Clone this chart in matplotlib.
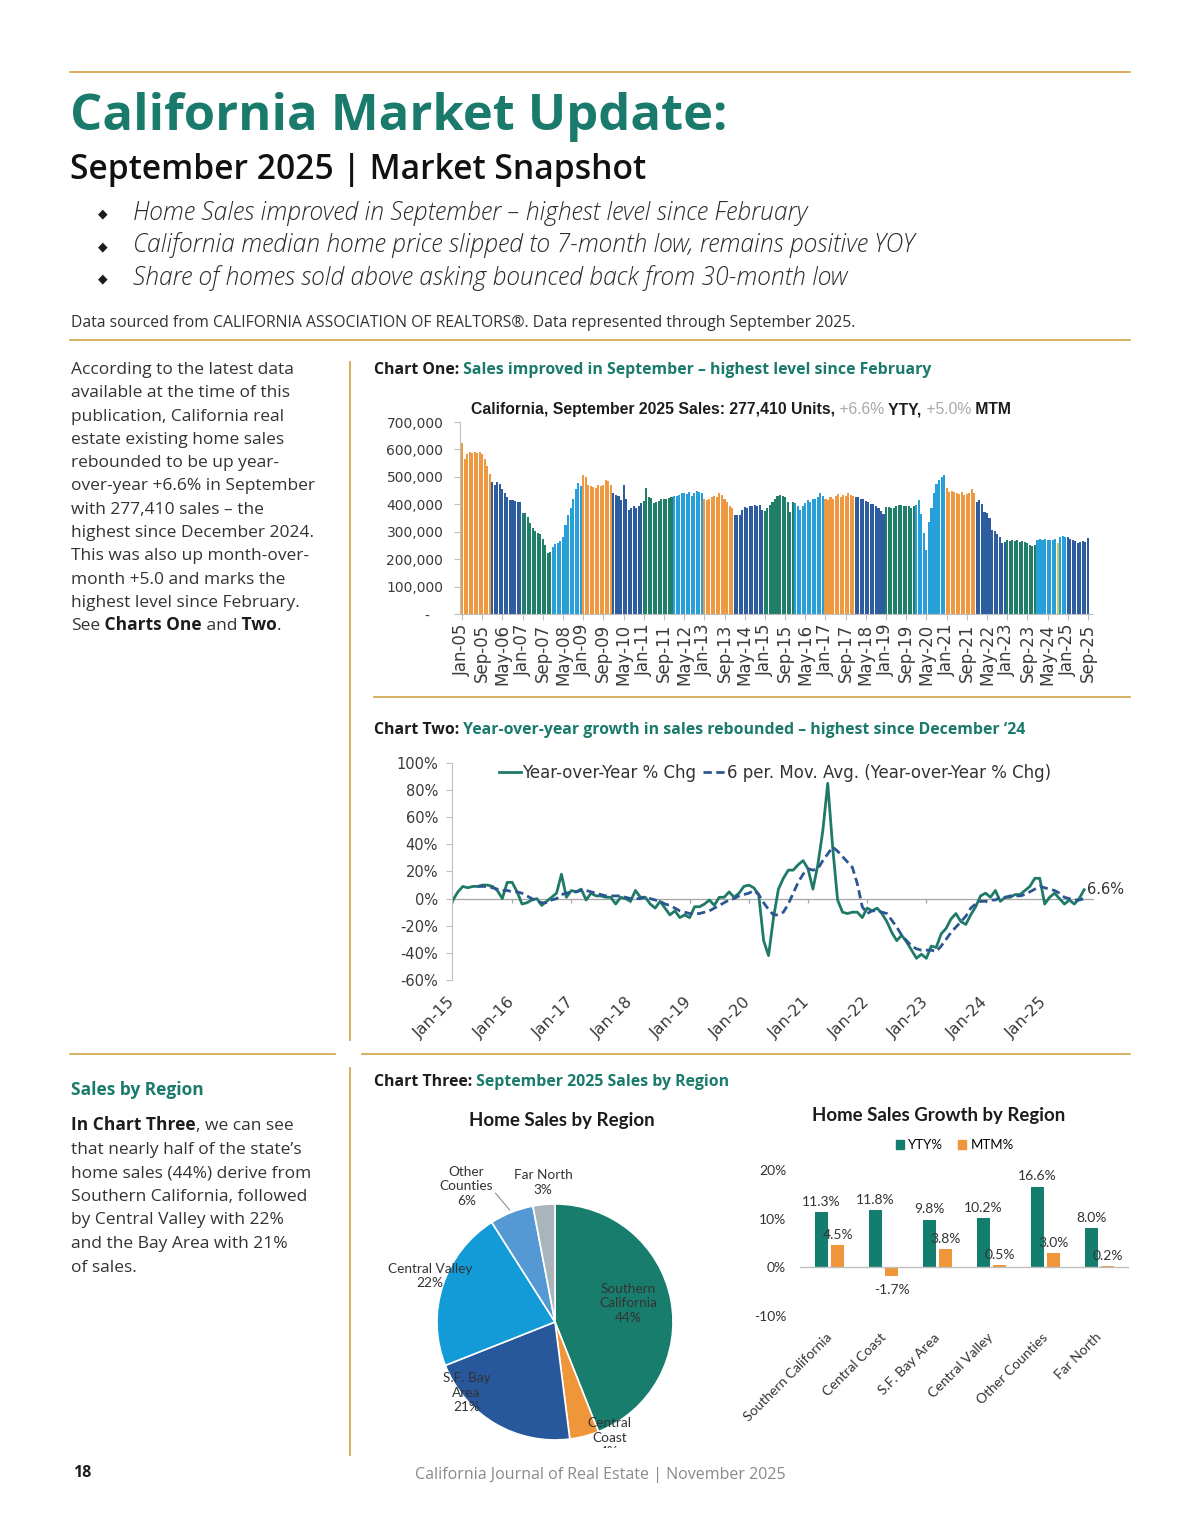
import matplotlib
matplotlib.use("Agg")
import matplotlib.pyplot as plt
import numpy as np
import pandas as pd
from matplotlib.lines import Line2D
from matplotlib.patches import Patch

W, H = 1200, 1535

# ---------------------------------------------------------------------------
# Data
# ---------------------------------------------------------------------------

# Chart One: California existing home sales, SAAR, thousands of units, Jan-05 .. Sep-25
sales_k = [
    625, 565, 585, 592, 588, 590, 588, 590, 582, 565, 540, 510,   # 2005
    480, 470, 482, 475, 455, 440, 425, 415, 415, 412, 410, 408,   # 2006
    368, 370, 355, 330, 312, 302, 296, 290, 275, 250, 222, 225,   # 2007
    245, 255, 258, 265, 280, 325, 360, 385, 420, 455, 478, 468,   # 2008
    505, 500, 470, 465, 462, 460, 470, 465, 470, 490, 485, 470,   # 2009
    440, 435, 432, 415, 470, 420, 380, 385, 392, 385, 395, 405,   # 2010
    412, 460, 425, 422, 405, 408, 412, 418, 420, 420, 422, 425,   # 2011
    430, 432, 435, 440, 442, 438, 445, 432, 440, 448, 445, 440,   # 2012
    418, 415, 420, 425, 430, 428, 440, 435, 420, 410, 395, 385,   # 2013
    360, 360, 362, 380, 390, 388, 392, 395, 398, 395, 398, 380,   # 2014
    375, 385, 398, 410, 420, 430, 433, 430, 425, 410, 372, 410,   # 2015
    405, 395, 380, 395, 405, 415, 410, 420, 418, 425, 440, 432,   # 2016
    418, 415, 425, 420, 430, 438, 425, 435, 430, 440, 435, 432,   # 2017
    428, 425, 420, 418, 412, 408, 402, 400, 395, 388, 375, 365,   # 2018
    390, 390, 388, 385, 393, 398, 396, 392, 392, 395, 385, 395,   # 2019
    398, 415, 365, 295, 235, 335, 385, 440, 475, 490, 500, 505,   # 2020
    460, 445, 448, 445, 440, 438, 445, 435, 438, 440, 455, 440,   # 2021
    410, 415, 400, 372, 368, 350, 305, 302, 290, 280, 258, 262,   # 2022
    268, 265, 268, 265, 270, 262, 265, 262, 258, 252, 248, 250,   # 2023
    268, 272, 270, 275, 270, 270, 268, 272, 260, 282, 285, 282,   # 2024
    282, 272, 268, 265, 260, 262, 265, 264, 277,                  # 2025
]
highlight_month = 'Sep-24'

# Chart Two: year-over-year % change in sales, Jan-15 .. Sep-25
yoy_pct = [
    -1, 5, 9, 8, 9, 9, 10, 10, 9, 6, 0, 12,            # 2015
    12, 5, -4, -3, -1, 0, -5, -2, 1, 4, 18, 1,         # 2016
    6, 5, 7, -1, 4, 2, 2, 1, 1, -4, 1, 0,              # 2017
    -2, 6, 1, 1, -4, -7, -2, -7, -12, -9, -14, -12,    # 2018
    -14, -6, -6, -4, -1, -5, 1, 1, 5, 1, 4, 9,         # 2019
    10, 8, 3, -31, -42, -14, 7, 15, 21, 21, 25, 28,    # 2020
    22, 7, 25, 50, 85, 38, -1, -10, -11, -10, -10, -14,  # 2021
    -7, -9, -7, -11, -17, -25, -31, -27, -32, -38, -44, -41,  # 2022
    -44, -35, -36, -26, -22, -15, -11, -17, -19, -12, -6, 2,  # 2023
    4, 1, 6, -2, 1, 1, 3, 3, 6, 9, 15, 15,             # 2024
    -4, 1, 4, 0, -4, -1, -4, 0, 6.6,                   # 2025
]
# 6-period moving average as plotted
yoy_ma6 = [
    None, None, None, None, None, 9, 9, 9, 8, 7, 6, 6,  # 2015
    5, 5, 4, 2, 0, -2, -3, -3, -1, 0, 3, 4,            # 2016
    5, 5, 6, 6, 5, 4, 3, 2, 2, 2, 2, 1,                # 2017
    0, 0, 0, 1, 0, -1, -2, -4, -5, -7, -9, -10,        # 2018
    -11, -11, -11, -10, -9, -7, -5, -3, -1, 0, 2, 3,   # 2019
    4, 6, 3, -3, -8, -12, -12, -10, -4, 4, 12, 18,     # 2020
    22, 21, 22, 28, 33, 38, 35, 31, 27, 23, 11, -6,    # 2021
    -11, -9, -9, -10, -11, -16, -21, -27, -31, -35, -37, -38,  # 2022
    -38, -38, -39, -35, -30, -25, -21, -17, -13, -7, -4, -2,   # 2023
    -2, -1, -1, 1, 1, 2, 2, 2, 3, 5, 7, 9,             # 2024
    8, 7, 6, 4, 1, 0, -1, -1, 0,                       # 2025
]

# Chart Three: September 2025 sales by region
pie_regions = ['Southern\nCalifornia', 'Central\nCoast', 'S.F. Bay\nArea',
               'Central Valley', 'Other\nCounties', 'Far North']
pie_share = [44, 4, 21, 22, 6, 3]

growth_regions = ['Southern California', 'Central Coast', 'S.F. Bay Area',
                  'Central Valley', 'Other Counties', 'Far North']
yty_pct = [11.3, 11.8, 9.8, 10.2, 16.6, 8.0]
mtm_pct = [4.5, -1.7, 3.8, 0.5, 3.0, 0.2]

# ---------------------------------------------------------------------------
# Style
# ---------------------------------------------------------------------------
TEAL = '#1a7a6c'
GOLD = '#d6a954'
INK = '#1c1c1c'
BODY_C = '#333333'
BODY = 'Open Sans'
CHART_FONT = 'DejaVu Sans'
XL_FONT = 'Lato'

ORANGE = '#ee9842'
DBLUE = '#2d5c9f'
GREEN = '#1f7f69'
LBLUE = '#27a0da'
year_colors = [ORANGE, DBLUE, GREEN, LBLUE] * 5 + [DBLUE]

pie_colors = ['#187d6d', '#f0963a', '#28589c', '#139bd8', '#5599d4', '#a9b5bb']
pie_label_xy = [(0.62, 0.16), (0.46, -0.98), (-0.75, -0.60),
                (-1.06, 0.39), (-0.75, 1.15), (-0.10, 1.18)]

fig = plt.figure(figsize=(W / 100, H / 100), dpi=100)
renderer = fig.canvas.get_renderer()


def fx(x):
    return x / W


def fy(y):
    return 1 - y / H


def px_axes(left, top, right, bottom):
    return fig.add_axes([fx(left), fy(bottom), (right - left) / W, (bottom - top) / H])


def hline(x0, x1, y, lw=1.3):
    fig.add_artist(Line2D([fx(x0), fx(x1)], [fy(y), fy(y)], color=GOLD, lw=lw))


def vline(x, y0, y1, lw=1.3):
    fig.add_artist(Line2D([fx(x), fx(x)], [fy(y0), fy(y1)], color=GOLD, lw=lw))


def text_runs(x, y, parts, size, style='normal', family=BODY):
    # parts: (text, weight, color); each run starts where the last one ended
    for s, weight, color in parts:
        t = fig.text(fx(x), fy(y), s, fontsize=size, fontweight=weight, color=color,
                     fontstyle=style, family=family, va='baseline', ha='left')
        x += t.get_window_extent(renderer).width
    return x


# ---------------------------------------------------------------------------
# Page header
# ---------------------------------------------------------------------------
hline(70, 1130, 72)
fig.text(fx(70), fy(130), 'California Market Update:', fontsize=36.5, fontweight='bold',
         color=TEAL, family=BODY, va='baseline')
fig.text(fx(70), fy(179), 'September 2025 | Market Snapshot', fontsize=24.2,
         fontweight='semibold', color='#111111', family=BODY, va='baseline')

bullets = ['Home Sales improved in September \u2013 highest level since February',
           'California median home price slipped to 7-month low, remains positive YOY',
           'Share of homes sold above asking bounced back from 30-month low']
for i, b in enumerate(bullets):
    yb = 220 + i * 32.5
    fig.text(fx(103), fy(yb - 6), '\u25c6', fontsize=9, color=INK,
             family=['DejaVu Sans'], va='center', ha='center')
    fig.text(fx(133), fy(yb), b, fontsize=17.7, fontstyle='italic', fontweight='light',
             color='#2a2a2a', family=BODY, va='baseline')

fig.text(fx(71), fy(327), 'Data sourced from CALIFORNIA ASSOCIATION OF REALTORS\u00ae. '
         'Data represented through September 2025.', fontsize=11.3, color=BODY_C,
         family=BODY, va='baseline')
hline(70, 1130, 340)

# ---------------------------------------------------------------------------
# Left column copy
# ---------------------------------------------------------------------------
para1 = ['According to the latest data', 'available at the time of this',
         'publication, California real', 'estate existing home sales',
         'rebounded to be up year-', 'over-year +6.6% in September',
         'with 277,410 sales \u2013 the', 'highest since December 2024.',
         'This was also up month-over-', 'month +5.0 and marks the',
         'highest level since February.']
for i, line in enumerate(para1):
    fig.text(fx(71), fy(374 + i * 23.3), line, fontsize=12.5, color=BODY_C,
             family=BODY, va='baseline')
text_runs(71, 374 + 11 * 23.3, [('See', 'normal', BODY_C), (' Charts One', 'bold', INK),
                                (' and', 'normal', BODY_C), (' Two', 'bold', INK),
                                ('.', 'normal', BODY_C)], 12.5)

vline(350, 362, 1040)
vline(350, 1068, 1455)
hline(374, 1130, 697)
hline(70, 335, 1054)
hline(362, 1130, 1054)

fig.text(fx(71), fy(1095), 'Sales by Region', fontsize=12.5, fontweight='bold',
         color=TEAL, family=BODY, va='baseline')
text_runs(71, 1130, [('In Chart Three', 'bold', INK), (', we can see', 'normal', BODY_C)], 12.5)
para2 = ['that nearly half of the state\u2019s', 'home sales (44%) derive from',
         'Southern California, followed', 'by Central Valley with 22%',
         'and the Bay Area with 21%', 'of sales.']
for i, line in enumerate(para2):
    fig.text(fx(71), fy(1130 + (i + 1) * 23.6), line, fontsize=12.5, color=BODY_C,
             family=BODY, va='baseline')

# chart captions
text_runs(374, 374, [('Chart One:', 'bold', INK),
                     (' Sales improved in September \u2013 highest level since February', 'bold', TEAL)], 11.4)
text_runs(374, 734, [('Chart Two:', 'bold', INK),
                     (' Year-over-year growth in sales rebounded \u2013 highest since December \u201824', 'bold', TEAL)], 11.4)
text_runs(374, 1086, [('Chart Three:', 'bold', INK),
                      (' September 2025 Sales by Region', 'bold', TEAL)], 11.4)

# ---------------------------------------------------------------------------
# Chart One: monthly sales bars
# ---------------------------------------------------------------------------
months1 = pd.date_range('2005-01-01', periods=len(sales_k), freq='MS').strftime('%b-%y')
bar_colors = [year_colors[i // 12] for i in range(len(sales_k))]
bar_colors[list(months1).index(highlight_month)] = '#c8cf4c'

ax1 = px_axes(460, 422, 1092, 614)
x1 = np.arange(len(sales_k))
ax1.bar(x1, np.array(sales_k) * 1000, width=0.82, color=bar_colors, linewidth=0)
ax1.set_xlim(-0.8, len(sales_k) + 0.6)
ax1.set_ylim(0, 700000)
yt = np.arange(0, 700001, 100000)
ax1.set_yticks(yt)
ax1.set_yticklabels(['-   '] + [f'{v:,}' for v in yt[1:]])
ax1.set_xticks(x1[::8])
ax1.set_xticklabels(months1[::8], rotation=90)
for side in ['top', 'right']:
    ax1.spines[side].set_visible(False)
for side in ['left', 'bottom']:
    ax1.spines[side].set_color('#bfbfbf')
ax1.tick_params(axis='y', length=4, pad=8, color='#bfbfbf', labelsize=10, labelcolor='#3a3a3a')
ax1.tick_params(axis='x', length=4, pad=3, color='#bfbfbf', labelsize=12, labelcolor='#3a3a3a')
for lab in ax1.get_yticklabels() + ax1.get_xticklabels():
    lab.set_family(CHART_FONT)

text_runs(471, 414, [('California, September 2025 Sales: 277,410 Units,', 'bold', INK),
                     (' +6.6%', 'normal', '#a8a8a8'), (' YTY,', 'bold', INK),
                     (' +5.0%', 'normal', '#a8a8a8'), (' MTM', 'bold', INK)],
          11.3, family='Liberation Sans')

# ---------------------------------------------------------------------------
# Chart Two: YoY % change with 6-period moving average
# ---------------------------------------------------------------------------
months2 = pd.date_range('2015-01-01', periods=len(yoy_pct), freq='MS').strftime('%b-%y')
ax2 = px_axes(452, 763, 1094, 980)
m = np.arange(len(yoy_pct))
ax2.axhline(0, color='#a6a6a6', lw=0.9, zorder=0)
ax2.vlines(m[::12], -3.5, 0, color='#a6a6a6', lw=0.9, zorder=0)
ax2.plot(m, yoy_pct, color='#1f7a68', lw=2.0, label='Year-over-Year % Chg')
ax2.plot(m, np.array(yoy_ma6, dtype=float), color='#2b5690', lw=2.0, ls=(0, (3, 1.6)),
         label='6 per. Mov. Avg. (Year-over-Year % Chg)')
ax2.annotate(f'{yoy_pct[-1]:.1f}%', (m[-1], yoy_pct[-1]), xytext=(2, 0),
             textcoords='offset points', va='center', ha='left', fontsize=10.5,
             color='#333333', family=CHART_FONT)
ax2.set_xlim(-0.2, 130)
ax2.set_ylim(-60, 100)
ax2.set_yticks(range(-60, 101, 20))
ax2.set_yticklabels([f'{v}%' for v in range(-60, 101, 20)])
ax2.set_xticks(m[::12])
ax2.set_xticklabels(months2[::12], rotation=45, ha='right', va='center', rotation_mode='anchor')
for side in ['top', 'right', 'bottom']:
    ax2.spines[side].set_visible(False)
ax2.spines['left'].set_color('#bfbfbf')
ax2.tick_params(axis='y', length=4, pad=6, color='#bfbfbf', labelsize=10.5, labelcolor='#3a3a3a')
ax2.tick_params(axis='x', length=0, pad=14, labelsize=11.5, labelcolor='#3a3a3a')
for lab in ax2.get_yticklabels() + ax2.get_xticklabels():
    lab.set_family(CHART_FONT)
leg = ax2.legend(loc='center', bbox_to_anchor=(0.503, 0.954), ncol=2, frameon=False,
                 handlelength=1.3, handletextpad=0.1, columnspacing=0.4,
                 prop={'family': CHART_FONT, 'size': 12})
for t in leg.get_texts():
    t.set_color('#333333')

# ---------------------------------------------------------------------------
# Chart Three (left): pie of sales by region
# ---------------------------------------------------------------------------
axp = px_axes(380, 1100, 730, 1448)
axp.pie(pie_share, colors=pie_colors, startangle=90, counterclock=False,
        wedgeprops=dict(edgecolor='white', linewidth=1.2))
axp.set_xlim(-1.483, 1.483)
axp.set_ylim(-1.068, 1.881)
for lab, share, (lx, ly) in zip(pie_regions, pie_share, pie_label_xy):
    axp.text(lx, ly, f'{lab}\n{share}%', ha='center', va='center', fontsize=9.8,
             color='#333333', family=XL_FONT, linespacing=1.25, clip_on=True)
# leader line from "Other Counties" to the edge of its wedge
start = 90 - 360 * sum(pie_share[:4]) / 100
mid = np.deg2rad(start - 360 * pie_share[4] / 200)
axp.annotate('', xy=(np.cos(mid), np.sin(mid)), xytext=(-0.52, 1.11),
             arrowprops=dict(arrowstyle='-', color='#7f7f7f', lw=0.7))
axp.text(0.06, 1.71, 'Home Sales by Region', ha='center', va='center', fontsize=13.5,
         fontweight='bold', color=INK, family=XL_FONT)

# ---------------------------------------------------------------------------
# Chart Three (right): YTY / MTM growth by region
# ---------------------------------------------------------------------------
axb = px_axes(800, 1170, 1129, 1316)
xb = np.arange(len(growth_regions))
YTY_C, MTM_C = '#137e6e', '#f0963a'
axb.bar(xb - 0.15, yty_pct, width=0.24, color=YTY_C)
axb.bar(xb + 0.15, mtm_pct, width=0.24, color=MTM_C)
for xi, v in zip(xb - 0.15, yty_pct):
    axb.annotate(f'{v:.1f}%', (xi, v), xytext=(0, 3), textcoords='offset points',
                 ha='center', va='bottom', fontsize=10, color='#333333', family=XL_FONT)
for xi, v in zip(xb + 0.15, mtm_pct):
    axb.annotate(f'{v:.1f}%', (xi, v), xytext=(0, 3 if v >= 0 else -6),
                 textcoords='offset points', ha='center',
                 va='bottom' if v >= 0 else 'top', fontsize=10, color='#333333',
                 family=XL_FONT)
axb.axhline(0, color='#bfbfbf', lw=1)
axb.set_xlim(-0.55, len(growth_regions) - 0.45)
axb.set_ylim(-10, 20)
axb.set_yticks([-10, 0, 10, 20])
axb.set_yticklabels([f'{v}%' for v in [-10, 0, 10, 20]])
axb.set_xticks(xb)
axb.set_xticklabels(growth_regions, rotation=45, ha='right', va='center', rotation_mode='anchor')
for side in axb.spines:
    axb.spines[side].set_visible(False)
axb.tick_params(axis='y', length=0, pad=10, labelsize=10, labelcolor='#333333')
axb.tick_params(axis='x', length=0, pad=14, labelsize=10, labelcolor='#333333')
for lab in axb.get_yticklabels() + axb.get_xticklabels():
    lab.set_family(XL_FONT)
axb.legend(handles=[Patch(color=YTY_C), Patch(color=MTM_C)], labels=['YTY%', 'MTM%'],
           loc='center', bbox_to_anchor=(0.47, 1.17), ncol=2, frameon=False,
           handlelength=0.6, handleheight=0.6, handletextpad=0.3, columnspacing=1.2,
           prop={'family': XL_FONT, 'size': 9.5})
fig.text(fx(939), fy(1115), 'Home Sales Growth by Region', ha='center', va='center',
         fontsize=13.4, fontweight='bold', color=INK, family=XL_FONT)

# ---------------------------------------------------------------------------
# Footer
# ---------------------------------------------------------------------------
fig.text(fx(73), fy(1477), '18', fontsize=11.5, fontweight='bold', color=INK,
         family=BODY, va='baseline')
fig.text(fx(600), fy(1479), 'California Journal of Real Estate | November 2025',
         fontsize=11.5, color='#8a8a8a', family=BODY, va='baseline', ha='center')

fig.savefig('out.png', dpi=100, facecolor='white')
